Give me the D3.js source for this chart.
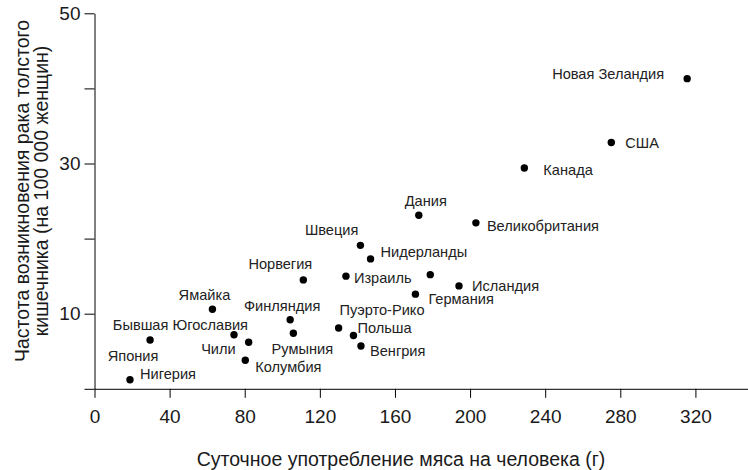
<!DOCTYPE html>
<html>
<head>
<meta charset="utf-8">
<script src="https://cdn.jsdelivr.net/npm/d3@7"></script>
<style>
  body { margin: 0; background: #fff; }
  svg { font-family: "Liberation Sans", Arial, sans-serif; }
  .axis path, .axis line { stroke: #000; }
  .axis text { fill: #1a1a1a; }
  .lbl { fill: #222; font-size: 14.6px; }
</style>
</head>
<body>
<svg id="chart"></svg>
<script>
// data
const countries = ["Нигерия", "Япония", "Ямайка", "Бывшая Югославия", "Чили", "Колумбия",
    "Финляндия", "Румыния", "Норвегия", "Пуэрто-Рико", "Польша", "Венгрия", "Израиль",
    "Швеция", "Нидерланды", "Дания", "", "Германия", "Исландия", "Великобритания",
    "Канада", "США", "Новая Зеландия"];
const meat = [18.9, 29.6, 62.8, 74.3, 82.1, 80.3, 104.2, 105.9, 111.2, 130, 137.9, 141.9, 133.9,
    141.6, 147, 172.7, 178.8, 170.9, 194.1, 203.1, 228.9, 275.2, 315.6];
const incidence = [1.2, 6.5, 10.6, 7.2, 6.2, 3.8, 9.2, 7.4, 14.5, 8.1, 7.1, 5.7, 15,
    19.1, 17.3, 23.1, 15.2, 12.6, 13.7, 22.1, 29.4, 32.8, 41.3];
const xTicks = [0, 40, 80, 120, 160, 200, 240, 280, 320];
const yTicks = [0, 10, 20, 30, 40, 50];
const yTickLabels = [10, 30, 50];

// where each name sits relative to its dot: [dx, dy, anchor]
const labelPlace = {
    "Нигерия": [10, -6, "start"],
    "Япония": [-17, 16, "middle"],
    "Бывшая Югославия": [14, -10, "end"],
    "Чили": [-13, 7, "end"],
    "Ямайка": [-8, -14, "middle"],
    "Колумбия": [10, 7, "start"],
    "Финляндия": [-8, -14, "middle"],
    "Румыния": [9, 16, "middle"],
    "Норвегия": [-23, -16, "middle"],
    "Пуэрто-Рико": [1, -18, "start"],
    "Польша": [4, -8, "start"],
    "Венгрия": [9, 5, "start"],
    "Израиль": [8, 2, "start"],
    "Швеция": [-2, -15, "end"],
    "Нидерланды": [10, -7, "start"],
    "Дания": [7, -14, "middle"],
    "Германия": [13, 5, "start"],
    "Исландия": [13, 0, "start"],
    "Великобритания": [11, 3, "start"],
    "Канада": [19, 2, "start"],
    "США": [14, 0, "start"],
    "Новая Зеландия": [-23, -5, "end"]
};

const width = 748;
const height = 470;

let data = countries.map((c, i) => ({ name: c, x: meat[i], y: incidence[i] }));

let svg = d3.select("#chart")
    .attr("width", width)
    .attr("height", height);

let x = d3.scaleLinear()
    .domain([0, 348])
    .range([94.5, 748]);

let y = d3.scaleLinear()
    .domain([0, 50])
    .range([388.8, 13.3]);

// y axis
svg.append("g")
    .attr("class", "axis")
    .attr("transform", `translate(${x(0)}, 0)`)
    .call(d3.axisLeft(y)
        .tickValues(yTicks)
        .tickSize(10)
        .tickSizeOuter(0)
        .tickPadding(4)
        .tickFormat(d => yTickLabels.includes(d) ? d : ""))
    .call(g => g.selectAll("text").style("font-size", "19px"));

// x axis
svg.append("g")
    .attr("class", "axis")
    .attr("transform", `translate(0, ${y(0)})`)
    .call(d3.axisBottom(x)
        .tickValues(xTicks)
        .tickSize(9)
        .tickSizeOuter(0)
        .tickPadding(12))
    .call(g => g.selectAll("text").style("font-size", "19px"));

svg.append("text")
    .attr("x", 401)
    .attr("y", 466)
    .attr("text-anchor", "middle")
    .style("font-size", "19.5px")
    .attr("fill", "#1a1a1a")
    .text("Суточное употребление мяса на человека (г)");

let yTitle = svg.append("text")
    .attr("transform", "translate(29, 191) rotate(-90)")
    .attr("text-anchor", "middle")
    .style("font-size", "19.5px")
    .attr("fill", "#1a1a1a");
yTitle.append("tspan").attr("x", 0).attr("dy", 0).text("Частота возникновения рака толстого");
yTitle.append("tspan").attr("x", 0).attr("dy", "0.98em").text("кишечника (на 100 000 женщин)");

// dots
svg.selectAll(".dot")
    .data(data)
    .enter().append("circle")
    .attr("class", "dot")
    .attr("cx", d => x(d.x))
    .attr("cy", d => y(d.y))
    .attr("r", 3.7)
    .attr("fill", "#000");

// names
svg.selectAll(".lbl")
    .data(data.filter(d => d.name))
    .enter().append("text")
    .attr("class", "lbl")
    .attr("x", d => x(d.x) + labelPlace[d.name][0])
    .attr("y", d => y(d.y) + labelPlace[d.name][1])
    .attr("dy", "0.35em")
    .attr("text-anchor", d => labelPlace[d.name][2])
    .text(d => d.name);
</script>
</body>
</html>
